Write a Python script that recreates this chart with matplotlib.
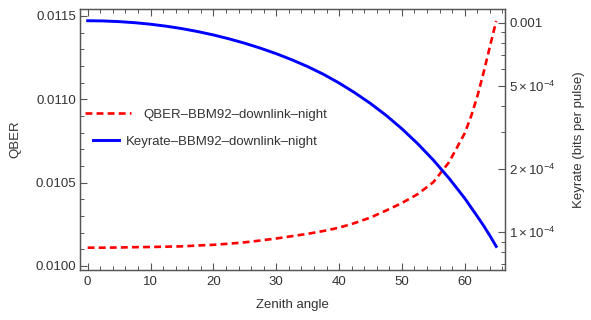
import matplotlib
matplotlib.use("Agg")
import matplotlib.pyplot as plt
from matplotlib.ticker import FixedLocator, FixedFormatter, MultipleLocator, NullFormatter
from matplotlib.lines import Line2D

plt.rcParams['font.family'] = ['Liberation Sans', 'DejaVu Sans']
plt.rcParams['mathtext.fontset'] = 'custom'
plt.rcParams['mathtext.rm'] = 'Liberation Sans'
plt.rcParams['mathtext.it'] = 'Liberation Sans'

# ---- data ----
zenith = [0, 2.5, 5, 7.5, 10, 12.5, 15, 17.5, 20, 22.5, 25, 27.5, 30, 32.5, 35,
          37.5, 40, 42.5, 45, 47.5, 50, 52.5, 55, 57.5, 60, 61, 62, 63, 64, 65]
qber = [0.010110, 0.010110, 0.010111, 0.010113, 0.010114, 0.010116, 0.010118,
        0.010123, 0.010127, 0.010134, 0.010142, 0.010153, 0.010165, 0.010179,
        0.010193, 0.010210, 0.010230, 0.010258, 0.010291, 0.010333, 0.010378,
        0.010431, 0.010503, 0.010623, 0.010797, 0.010898, 0.011018, 0.011162,
        0.011317, 0.011470]
keyrate = [1.0223e-3, 1.0197e-3, 1.0122e-3, 1.0002e-3, 9.836e-4, 9.625e-4,
           9.371e-4, 9.075e-4, 8.742e-4, 8.374e-4, 7.977e-4, 7.556e-4, 7.113e-4,
           6.650e-4, 6.170e-4, 5.672e-4, 5.152e-4, 4.627e-4, 4.111e-4, 3.605e-4,
           3.112e-4, 2.643e-4, 2.206e-4, 1.805e-4, 1.448e-4, 1.310e-4, 1.186e-4,
           1.071e-4, 9.59e-5, 8.53e-5]
qber_label = "QBER–BBM92–downlink–night"
key_label = "Keyrate–BBM92–downlink–night"
x_ticks = [0, 10, 20, 30, 40, 50, 60]
q_ticks = [0.0100, 0.0105, 0.0110, 0.0115]
q_ticklabels = ["0.0100", "0.0105", "0.0110", "0.0115"]
k_ticks = [1e-4, 2e-4, 5e-4, 1e-3]
k_ticklabels = [r"$\mathregular{1\times10^{-4}}$", r"$\mathregular{2\times10^{-4}}$",
                r"$\mathregular{5\times10^{-4}}$", "0.001"]

fs = 9.5
tc = '#333333'
fc = '#555555'

fig = plt.figure(figsize=(5.91, 3.2), dpi=100)
ax = fig.add_axes([80/591, 1-270/320, (505-80)/591, (270-9)/320])
ax2 = ax.twinx()

ax.plot(zenith, qber, color='#ff0000', lw=1.9, linestyle=(0, (2.6, 1.6)))
ax2.plot(zenith, keyrate, color='#0000ff', lw=2.1)

ax.set_xlim(-1.22, 66.4)
ax.set_ylim(0.009976, 0.011542)
ax2.set_yscale('log')
ax2.set_ylim(6.58e-5, 1.163e-3)

ax.xaxis.set_major_locator(FixedLocator(x_ticks))
ax.xaxis.set_minor_locator(MultipleLocator(2))
ax.yaxis.set_major_locator(FixedLocator(q_ticks))
ax.yaxis.set_major_formatter(FixedFormatter(q_ticklabels))
ax.yaxis.set_minor_locator(MultipleLocator(0.0001))

minors = [m * 1e-5 for m in (6, 7, 8, 9)] + [m * 1e-4 for m in (3, 4, 6, 7, 8, 9)]
ax2.yaxis.set_major_locator(FixedLocator(k_ticks))
ax2.yaxis.set_major_formatter(FixedFormatter(k_ticklabels))
ax2.yaxis.set_minor_locator(FixedLocator(minors))
ax2.yaxis.set_minor_formatter(NullFormatter())

ax.tick_params(axis='x', which='both', direction='in', top=True, bottom=True,
               labelsize=fs, labelcolor=tc, color=fc, pad=4)
ax.tick_params(axis='y', which='both', direction='in', left=True, right=False,
               labelsize=fs, labelcolor=tc, color=fc, pad=3)
ax.tick_params(which='major', length=5, width=0.8)
ax.tick_params(which='minor', length=3, width=0.7)
ax2.tick_params(axis='y', which='both', direction='in', right=True, left=False,
                labelsize=fs, labelcolor=tc, color=fc, pad=3)
ax2.tick_params(which='major', length=5, width=0.8)
ax2.tick_params(which='minor', length=3, width=0.7)

for a in (ax, ax2):
    for s in a.spines.values():
        s.set_color(fc)
        s.set_linewidth(0.9)

ax.set_xlabel("Zenith angle", fontsize=fs, color=tc, labelpad=8)
ax.set_ylabel("QBER", fontsize=fs, color=tc, labelpad=10)
ax2.set_ylabel("Keyrate (bits per pulse)", fontsize=fs, color=tc, labelpad=12)

h1 = Line2D([], [], color='#ff0000', lw=1.9, linestyle=(0, (2.6, 1.6)))
h2 = Line2D([], [], color='#0000ff', lw=2.1)
leg1 = ax.legend([h1], [qber_label], loc='upper left', bbox_to_anchor=(0.005, 0.328, 0.5, 0.3),
                 bbox_transform=ax.transAxes, frameon=False, fontsize=fs,
                 handlelength=3.5, handletextpad=0.95, borderaxespad=0, borderpad=0.2)
for t in leg1.get_texts():
    t.set_color(tc)
ax.add_artist(leg1)
leg2 = ax.legend([h2], [key_label], loc='upper left', bbox_to_anchor=(0.025, 0.224, 0.5, 0.3),
                 bbox_transform=ax.transAxes, frameon=False, fontsize=fs,
                 handlelength=1.95, handletextpad=0.5, borderaxespad=0, borderpad=0.2)
for t in leg2.get_texts():
    t.set_color(tc)

fig.savefig("out.png", dpi=100)
